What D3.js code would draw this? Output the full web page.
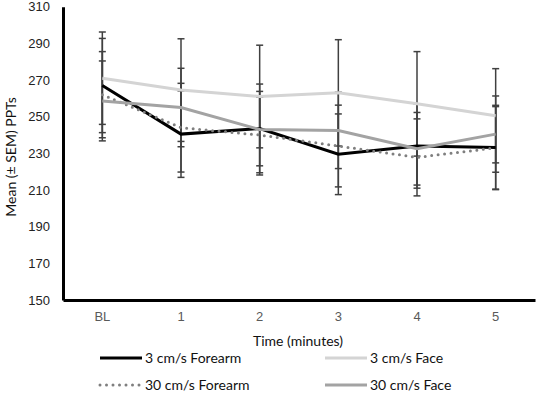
<!DOCTYPE html>
<html>
<head>
<meta charset="utf-8">
<script src="https://cdn.jsdelivr.net/npm/d3@7"></script>
<style>
  body { margin: 0; background: #fff; }
  svg { display: block; font-family: Lato, "Open Sans", sans-serif; }
</style>
</head>
<body>
<div id="chart"></div>
<script>
// time points
var categories = ["BL", "1", "2", "3", "4", "5"];
var yTicks = [150, 170, 190, 210, 230, 250, 270, 290, 310];

// means and SEM
var forearm3 = [267, 240.5, 243.5, 229.5, 234, 233.2];
var forearm3Sem = [25.7, 23.6, 20.3, 22, 23, 23];
var face3 = [271, 264.5, 261, 263, 257, 250.5];
var face3Sem = [25.2, 28, 28, 29, 28.5, 25.7];
var forearm30 = [262, 244, 240, 234, 227.8, 233];
var forearm30Sem = [23.5, 24.2, 20.6, 22.3, 21, 22.5];
var face30 = [258.6, 255, 243, 242.5, 232.5, 240.5];
var face30Sem = [21.8, 21.4, 24.8, 20.8, 19.8, 20.8];

var seriesNames = ["3 cm/s Forearm", "3 cm/s Face", "30 cm/s Forearm", "30 cm/s Face"];

var series = [
    {name: seriesNames[0], values: forearm3, sem: forearm3Sem, color: "#000000", dash: null},
    {name: seriesNames[1], values: face3, sem: face3Sem, color: "#d4d4d4", dash: null},
    {name: seriesNames[2], values: forearm30, sem: forearm30Sem, color: "#7f7f7f", dash: "0 6.5"},
    {name: seriesNames[3], values: face30, sem: face30Sem, color: "#a3a3a3", dash: null}
];

var width = 536, height = 394;
var svg = d3.select("#chart").append("svg")
    .attr("width", width)
    .attr("height", height);

var x = d3.scaleBand().domain(categories).range([63, 535]);
var y = d3.scaleLinear().domain([150, 310]).range([300, 6.7]);
var cx = function(c){ return x(c) + x.bandwidth() / 2; };

// error bars
series.forEach(function(s){
    var g = svg.append("g").attr("class", "errbars");
    categories.forEach(function(c, i){
        var hi = s.values[i] + s.sem[i], lo = s.values[i] - s.sem[i];
        g.append("line")
            .attr("x1", cx(c)).attr("x2", cx(c))
            .attr("y1", y(hi)).attr("y2", y(lo))
            .attr("stroke", "#404040").attr("stroke-width", 1.5);
        [hi, lo].forEach(function(v){
            g.append("line")
                .attr("x1", cx(c) - 3.5).attr("x2", cx(c) + 3.5)
                .attr("y1", y(v)).attr("y2", y(v))
                .attr("stroke", "#404040").attr("stroke-width", 1.5);
        });
    });
});

// lines
var line = d3.line()
    .x(function(d, i){ return cx(categories[i]); })
    .y(function(d){ return y(d); });

series.forEach(function(s){
    var p = svg.append("path")
        .datum(s.values)
        .attr("d", line)
        .attr("fill", "none")
        .attr("stroke", s.color)
        .attr("stroke-width", 3);
    if (s.dash) {
        p.attr("stroke-dasharray", s.dash).attr("stroke-linecap", "round");
    }
});

// axes
var yAxis = d3.axisLeft(y).tickValues(yTicks).tickSize(0).tickPadding(13);
var gy = svg.append("g").attr("transform", "translate(63,0)").call(yAxis);
gy.select(".domain").attr("stroke", "#000").attr("stroke-width", 3);
gy.selectAll("text").style("font-size", "13px").attr("fill", "#222");

var xAxis = d3.axisBottom(x).tickSize(0).tickPadding(12);
var gx = svg.append("g").attr("transform", "translate(0,300)").call(xAxis);
gx.select(".domain").attr("stroke", "#000").attr("stroke-width", 3);
gx.selectAll("text").style("font-size", "13px").attr("fill", "#595959");

svg.append("text")
    .attr("x", 298).attr("y", 346)
    .attr("text-anchor", "middle")
    .style("font-size", "14px")
    .attr("fill", "#111")
    .text("Time (minutes)");

svg.append("text")
    .attr("transform", "translate(16,157) rotate(-90)")
    .attr("text-anchor", "middle")
    .style("font-size", "14px")
    .attr("fill", "#111")
    .text("Mean (\u00b1 SEM) PPTs");

// legend
var legendPos = [[100, 358], [325, 358], [100, 385], [325, 385]];
series.forEach(function(s, i){
    var lx = legendPos[i][0], ly = legendPos[i][1];
    var l = svg.append("line")
        .attr("x1", lx).attr("x2", lx + 42)
        .attr("y1", ly).attr("y2", ly)
        .attr("stroke", s.color).attr("stroke-width", 3);
    if (s.dash) l.attr("stroke-dasharray", s.dash).attr("stroke-linecap", "round");
    svg.append("text")
        .attr("x", lx + 45).attr("y", ly + 5)
        .style("font-size", "14px")
        .attr("fill", "#111")
        .text(s.name);
});
</script>
</body>
</html>
